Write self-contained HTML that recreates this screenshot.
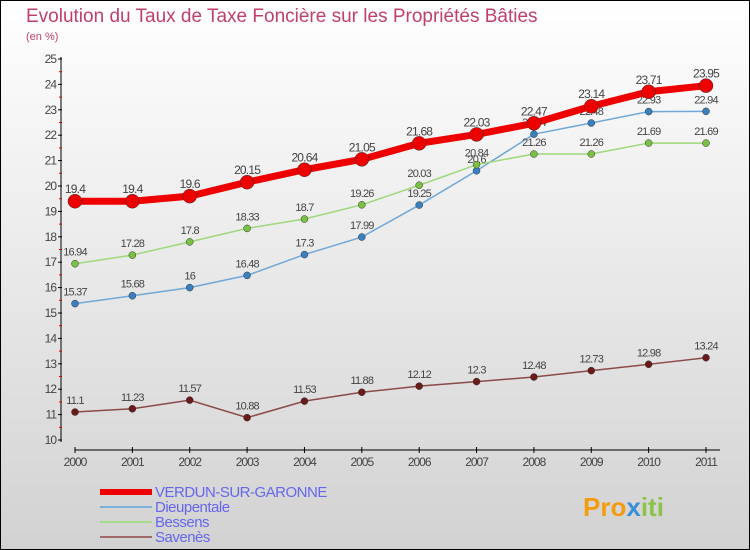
<!DOCTYPE html>
<html><head><meta charset="utf-8"><style>
body{margin:0;width:750px;height:550px;overflow:hidden;font-family:"Liberation Sans",sans-serif}
#c{position:absolute;left:0;top:0}
</style></head><body>
<svg id="c" width="750" height="550" xmlns="http://www.w3.org/2000/svg">
<defs><linearGradient id="bg" x1="0" y1="0" x2="0" y2="1"><stop offset="0" stop-color="#ffffff"/><stop offset="1" stop-color="#d2d2d2"/></linearGradient></defs>
<rect x="0.5" y="0.5" width="749" height="549" fill="url(#bg)" stroke="#000"/>
<text x="26" y="22" font-size="19" fill="#c0406a">Evolution du Taux de Taxe Foncière sur les Propriétés Bâties</text>
<text x="26" y="40" font-size="11" fill="#c0406a">(en %)</text>
<g id="axes"></g><g id="series"></g><g id="legend"></g>
<text x="583" y="516" font-size="26" font-weight="bold" fill="#f39c12">Pro<tspan fill="#3a8fd8">x</tspan><tspan fill="#8bc34a">iti</tspan></text>
</svg>
<script>
const years=[2000,2001,2002,2003,2004,2005,2006,2007,2008,2009,2010,2011];
const verdun=[19.4,19.4,19.6,20.15,20.64,21.05,21.68,22.03,22.47,23.14,23.71,23.95];
const dieup=[15.37,15.68,16,16.48,17.3,17.99,19.25,20.6,22.04,22.48,22.93,22.94];
const bessens=[16.94,17.28,17.8,18.33,18.7,19.26,20.03,20.84,21.26,21.26,21.69,21.69];
const savenes=[11.1,11.23,11.57,10.88,11.53,11.88,12.12,12.3,12.48,12.73,12.98,13.24];
const yTicks=[10,11,12,13,14,15,16,17,18,19,20,21,22,23,24,25];
const NS="http://www.w3.org/2000/svg";
const X=i=>75+i*(706-75)/11;
const Y=v=>440-(v-10)*25.4;
function el(t,a,p){const e=document.createElementNS(NS,t);for(const k in a)e.setAttribute(k,a[k]);p.appendChild(e);return e;}
const ax=document.getElementById('axes');
let l=el('line',{x1:61,y1:57,x2:61,y2:442,stroke:'#000'},ax);


l=el('line',{x1:75,y1:450,x2:720,y2:450,stroke:'#000'},ax);


yTicks.forEach(v=>{
 el('line',{x1:58,x2:62,y1:Y(v),y2:Y(v),stroke:'#000'},ax);
 if(v<25)el('line',{x1:59,x2:62,y1:Y(v+0.5),y2:Y(v+0.5),stroke:'#e00'},ax);
 const t=el('text',{x:56,y:Y(v)+4,'font-size':12,fill:'#444','text-anchor':'end','letter-spacing':'-1'},ax);t.textContent=v;
 
 
});
years.forEach((y,i)=>{
 el('line',{x1:X(i),x2:X(i),y1:447,y2:453,stroke:'#000'},ax);
 const t=el('text',{x:X(i),y:466,'font-size':12,fill:'#444','text-anchor':'middle','letter-spacing':'-1'},ax);t.textContent=y;
 
 
});
const sg=document.getElementById('series');
function draw(data,name,color,lw,r,dot,labelColor,labelFs){
 const g=el('g',{},sg);
 
 
 const p=el('polyline',{points:data.map((v,i)=>X(i)+','+Y(v)).join(' '),fill:'none',stroke:color,'stroke-width':lw},g);
 
 
 data.forEach((v,i)=>{
  const c=el('circle',{cx:X(i),cy:Y(v),r:r,fill:dot,stroke:'#333','stroke-width':0.5},g);
  
  
  const t=el('text',{x:X(i),y:Y(v)-8,'font-size':labelFs,fill:'#444','text-anchor':'middle','letter-spacing':'-0.8'},g);t.textContent=v;
  
  
 });
}
draw(savenes,'savenes','#8b4a4a',1.5,3.5,'#6b1a1a','#444',11);
draw(dieup,'dieupentale','#6fa8d8',1.5,3.5,'#3a7fc0','#444',11);
draw(bessens,'bessens','#9ed87a',1.5,3.5,'#7ac143','#444',11);
draw(verdun,'verdun','#ee0000',7,7,'#ee0000','#444',12);
const lg=document.getElementById('legend');
[['VERDUN-SUR-GARONNE','#ee0000',6],['Dieupentale','#7ab0d8',2],['Bessens','#a6dc88',2],['Savenès','#a06a6a',2]].forEach((d,i)=>{
 const y=492+i*15;
 const ln=el('line',{x1:100,x2:152,y1:y,y2:y,stroke:d[1],'stroke-width':d[2]},lg);
 
 
 const t=el('text',{x:155,y:y+5,'font-size':15,fill:'#6666ee','letter-spacing':'-0.5'},lg);t.textContent=d[0];
 
 
});
</script>
</body></html>
